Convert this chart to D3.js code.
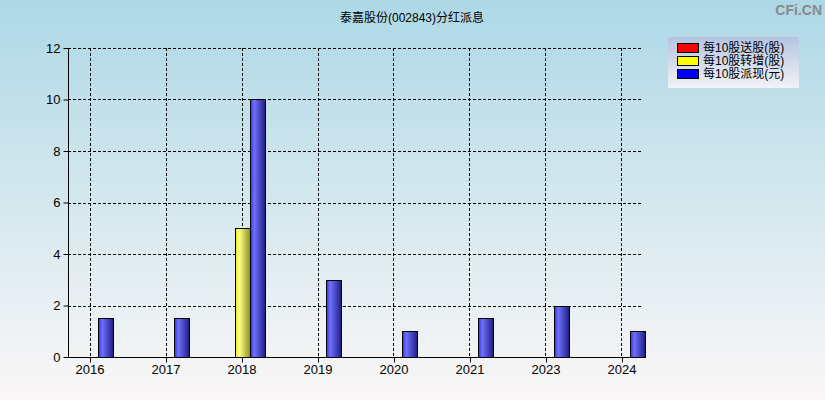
<!DOCTYPE html>
<html><head><meta charset="utf-8">
<script src="https://cdn.jsdelivr.net/npm/d3@7"></script>
<style>body{margin:0;padding:0;overflow:hidden}svg{display:block}</style>
</head><body>
<script>
const categories = ["2016","2017","2018","2019","2020","2021","2023","2024"];
const seriesNames = ["每10股送股(股)","每10股转增(股)","每10股派现(元)"];
const songGu = [0,0,0,0,0,0,0,0];
const zhuanZeng = [0,0,5,0,0,0,0,0];
const paiXian = [1.5,1.5,10,3,1,1.5,2,1];
const yTicks = [0,2,4,6,8,10,12];
const title = "泰嘉股份(002843)分红派息";

const W=825,H=400;
const svg=d3.select("body").append("svg").attr("width",W).attr("height",H);
const defs=svg.append("defs");
const bg=defs.append("linearGradient").attr("id","bg").attr("x1",0).attr("y1",0).attr("x2",0).attr("y2",1);
bg.append("stop").attr("offset","0%").attr("stop-color","#add8e6");
bg.append("stop").attr("offset","100%").attr("stop-color","#fbf7f7");
const lg=defs.append("linearGradient").attr("id","lg").attr("x1",0).attr("y1",0).attr("x2",0).attr("y2",1);
lg.append("stop").attr("offset","0%").attr("stop-color","#b4c4e0");
lg.append("stop").attr("offset","100%").attr("stop-color","#f2f2f8");
const colors=[["#e01010","#ff7070","#801010"],["#e8e820","#ffff88","#8c8c1c"],["#3434e8","#7070ff","#1c1c80"]];
colors.forEach((c,i)=>{
  const g=defs.append("linearGradient").attr("id","bar"+i).attr("x1",0).attr("y1",0).attr("x2",1).attr("y2",0);
  g.append("stop").attr("offset","0%").attr("stop-color",c[0]);
  g.append("stop").attr("offset","25%").attr("stop-color",c[1]);
  g.append("stop").attr("offset","100%").attr("stop-color",c[2]);
});
svg.append("rect").attr("width",W).attr("height",H).attr("fill","url(#bg)");

const L=68,R=643,T=48,B=357;
const x=d3.scalePoint().domain(categories).range([L,R]).padding(0.283);
const y=d3.scaleLinear().domain([0,12]).range([B,T]);
const inner=d3.scaleBand().domain([0,1,2]).range([-22.5,24]).paddingInner(0);

const font="'Liberation Sans', Arial, 'Noto Sans CJK SC', sans-serif";
svg.append("text").attr("x",412).attr("y",22).attr("text-anchor","middle")
  .attr("font-family",font).attr("font-size",12).attr("fill","#000").text(title);
svg.append("text").attr("x",822).attr("y",15).attr("text-anchor","end")
  .attr("font-family","'Liberation Sans', sans-serif").attr("font-size",14).attr("font-weight","bold").attr("fill","#8a8a8a").text("CFi.CN");

// grid
const grid=svg.append("g").attr("stroke","#000").attr("stroke-dasharray","3,2").attr("stroke-width",1);
yTicks.filter(t=>t>0).forEach(t=>grid.append("line").attr("x1",L).attr("x2",R).attr("y1",Math.round(y(t))+0.5).attr("y2",Math.round(y(t))+0.5));
categories.forEach(c=>grid.append("line").attr("x1",Math.round(x(c))+0.5).attr("x2",Math.round(x(c))+0.5).attr("y1",T).attr("y2",B));

// bars
const series=[songGu,zhuanZeng,paiXian];
series.forEach((vals,si)=>{
  svg.append("g").selectAll("rect").data(vals.map((v,i)=>({v,c:categories[i]})).filter(d=>d.v>0))
    .enter().append("rect")
    .attr("x",d=>Math.round(x(d.c)+inner(si))+0.5)
    .attr("y",d=>Math.round(y(d.v))+0.5)
    .attr("width",Math.round(inner.bandwidth())-1)
    .attr("height",d=>B-Math.round(y(d.v)))
    .attr("fill","url(#bar"+si+")").attr("stroke","#000").attr("stroke-width",1);
});

// axes
const yAxis=d3.axisLeft(y).tickValues(yTicks).tickSize(5).tickPadding(3).tickFormat(d3.format("d"));
const ya=svg.append("g").attr("transform",`translate(${L+0.5},0)`).call(yAxis);
ya.select(".domain").attr("d",`M0,${T}V${B}`);
const xAxis=d3.axisBottom(x).tickSize(5).tickPadding(2);
const xa=svg.append("g").attr("transform",`translate(0,${B+0.5})`).call(xAxis);
xa.select(".domain").attr("d",`M${L},0H${R+1}`);
xa.selectAll(".tick line").attr("transform","translate(0.5,0)");
[ya,xa].forEach(a=>{a.selectAll("text").attr("font-family",font).attr("font-size",13).attr("fill","#000");
  a.selectAll("line,path").attr("stroke","#000");});

// legend
const lgG=svg.append("g");
lgG.append("rect").attr("x",668).attr("y",37).attr("width",131).attr("height",51).attr("fill","url(#lg)");
seriesNames.forEach((n,i)=>{
  lgG.append("rect").attr("x",677.5).attr("y",43.5+i*13).attr("width",21).attr("height",9)
    .attr("fill",["#ff0000","#ffff00","#0000ff"][i]).attr("stroke","#000");
  lgG.append("text").attr("x",703).attr("y",52+i*13).attr("font-family",font).attr("font-size",12).attr("fill","#000").text(n);
});
</script>
</body></html>
